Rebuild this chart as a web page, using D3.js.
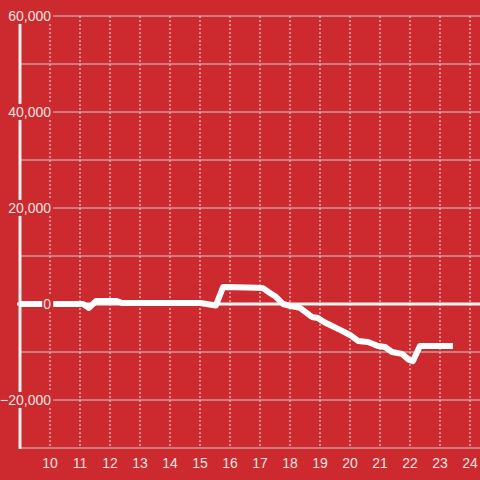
<!DOCTYPE html>
<html>
<head>
<meta charset="utf-8">
<script src="https://cdn.jsdelivr.net/npm/d3@7"></script>
<style>
  html, body { margin: 0; padding: 0; background: #cc2a2e; }
  svg { display: block; }
</style>
</head>
<body>
<script>
// hour of day vs value
var hours  = [9, 11.1, 11.3, 11.53, 12.23, 12.4, 15, 15.53, 15.77, 16.93, 17.1, 17.33, 17.53, 17.77, 18, 18.33, 18.73, 18.93, 19.13, 19.67, 20, 20.27, 20.6, 20.93, 21.17, 21.4, 21.73, 21.97, 22.1, 22.33, 23.43];
var values = [0, 0, -830, 600, 600, 200, 200, -300, 3540, 3400, 3300, 2300, 1500, 0, -400, -800, -2700, -2900, -3750, -5400, -6450, -7700, -7900, -8750, -8950, -10000, -10400, -11650, -11900, -8750, -8750];
var xTicks = [10, 11, 12, 13, 14, 15, 16, 17, 18, 19, 20, 21, 22, 23, 24];
var yTicks = [60000, 40000, 20000, 0, -20000];
var yGrid  = [60000, 50000, 40000, 30000, 20000, 10000, -10000, -20000, -30000];

var width = 480, height = 480;
var bg = "#cc2a2e";
var textColor = "#f5e3e3";

var svg = d3.select("body").append("svg")
    .attr("width", width)
    .attr("height", height);

svg.append("rect")
    .attr("width", width)
    .attr("height", height)
    .attr("fill", bg);

var x = d3.scaleLinear().domain([9, 24]).range([20, 470]);
var y = d3.scaleLinear().domain([-30000, 60000]).range([448, 16]);

// dotted vertical grid
svg.append("g").selectAll("line")
    .data(xTicks)
    .enter().append("line")
    .attr("x1", d => x(d)).attr("x2", d => x(d))
    .attr("y1", y(60000)).attr("y2", y(-30000))
    .attr("stroke", "#e6e6e6")
    .attr("stroke-width", 1)
    .attr("stroke-dasharray", "2,2");

// horizontal grid
svg.append("g").selectAll("line")
    .data(yGrid)
    .enter().append("line")
    .attr("x1", 20).attr("x2", width)
    .attr("y1", d => y(d)).attr("y2", d => y(d))
    .attr("stroke", "#cfcfcf")
    .attr("stroke-width", 1);

// zero line
svg.append("line")
    .attr("x1", 17).attr("x2", width)
    .attr("y1", y(0)).attr("y2", y(0))
    .attr("stroke", "#f4f4f4")
    .attr("stroke-width", 3);

// y axis line
svg.append("line")
    .attr("x1", 20).attr("x2", 20)
    .attr("y1", y(60000)).attr("y2", y(-30000) + 1)
    .attr("stroke", "#f0f0f0")
    .attr("stroke-width", 3);

// data line
var line = d3.line()
    .x((d, i) => x(hours[i]))
    .y(d => y(d));

svg.append("path")
    .datum(values)
    .attr("d", line)
    .attr("fill", "none")
    .attr("stroke", "#ffffff")
    .attr("stroke-width", 6)
    .attr("stroke-linejoin", "round");

// y labels with background
var fmt = d3.format(",");
var yl = svg.append("g").selectAll("g")
    .data(yTicks)
    .enter().append("g");

yl.append("text")
    .attr("x", 51)
    .attr("y", d => y(d))
    .attr("dy", "0.35em")
    .attr("text-anchor", "end")
    .attr("font-family", "Liberation Sans, Arial, sans-serif")
    .attr("font-size", 14)
    .attr("fill", textColor)
    .text(d => fmt(d));

yl.each(function() {
    var g = d3.select(this);
    var b = g.select("text").node().getBBox();
    g.insert("rect", "text")
        .attr("x", b.x - 1)
        .attr("y", b.y)
        .attr("width", b.width + 3)
        .attr("height", b.height)
        .attr("fill", bg);
});

// x labels
svg.append("g").selectAll("text")
    .data(xTicks)
    .enter().append("text")
    .attr("x", d => x(d))
    .attr("y", 468)
    .attr("text-anchor", "middle")
    .attr("font-family", "Liberation Sans, Arial, sans-serif")
    .attr("font-size", 14)
    .attr("fill", textColor)
    .text(d => d);
</script>
</body>
</html>
